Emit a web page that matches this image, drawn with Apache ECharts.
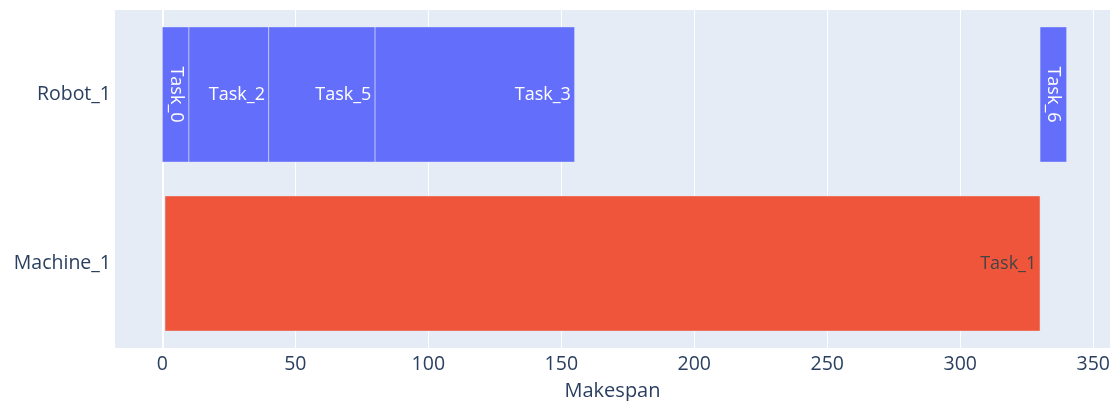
<!DOCTYPE html>
<html>
<head>
<meta charset="utf-8">
<title>Makespan</title>
<style>
  html, body { margin: 0; padding: 0; background: #fff; }
  #box { width: 1110px; height: 401px; }
</style>
</head>
<body>
<div id="box"></div>
<script src="https://cdn.jsdelivr.net/npm/echarts@6/dist/echarts.min.js"></script>
<script>
// rows of the chart, bottom to top
var resources = ['Machine_1', 'Robot_1'];
// one entry per task
var taskNames = ['Task_0', 'Task_2', 'Task_5', 'Task_3', 'Task_6', 'Task_1'];
var taskResource = ['Robot_1', 'Robot_1', 'Robot_1', 'Robot_1', 'Robot_1', 'Machine_1'];
var taskStart = [0, 10, 40, 80, 330, 1];
var taskEnd = [10, 40, 80, 155, 340, 330];

var colors = { 'Robot_1': '#636EFA', 'Machine_1': '#EF553B' };
var textColors = { 'Robot_1': '#ffffff', 'Machine_1': '#444444' };
var font = '"Open Sans", verdana, arial, sans-serif';

var data = taskNames.map(function (name, i) {
  return {
    name: name,
    value: [resources.indexOf(taskResource[i]), taskStart[i], taskEnd[i]],
    res: taskResource[i]
  };
});

function renderItem(params, api) {
  var cat = api.value(0);
  var p0 = api.coord([api.value(1), cat]);
  var p1 = api.coord([api.value(2), cat]);
  var h = api.size([0, 1])[1] * 0.8;
  var w = p1[0] - p0[0];
  var item = data[params.dataIndex];
  var narrow = w < 45;  // like plotly: turn the text when it does not fit
  return {
    type: 'rect',
    shape: { x: p0[0], y: p0[1] - h / 2, width: w, height: h },
    style: { fill: colors[item.res], stroke: '#E5ECF6', lineWidth: 0.5 },
    textContent: {
      style: {
        text: item.name,
        fill: textColors[item.res],
        fontFamily: font,
        fontSize: 18
      }
    },
    textConfig: narrow
      ? { position: 'inside', rotation: -Math.PI / 2 }
      : { position: 'insideRight', distance: 4 }
  };
}

var myChart = echarts.init(document.getElementById('box'));
myChart.setOption({
  backgroundColor: '#ffffff',
  textStyle: { fontFamily: font },
  grid: { left: 115, right: 0, top: 10, bottom: 53, outerBoundsMode: 'none', containLabel: false },
  xAxis: {
    type: 'value',
    min: -17.8,
    max: 356.3,
    splitNumber: 7,
    name: 'Makespan',
    nameLocation: 'middle',
    nameGap: 33,
    nameTextStyle: { color: '#2a3f5f', fontSize: 20, fontFamily: font },
    axisLine: { show: false },
    axisTick: { show: false },
    axisLabel: {
      color: '#2a3f5f', fontSize: 19.5, fontFamily: font, margin: 6,
      showMinLabel: false, showMaxLabel: false
    },
    splitLine: {
      show: true, showMinLine: false, showMaxLine: false,
      lineStyle: { color: '#ffffff', width: 1 }
    }
  },
  yAxis: {
    type: 'category',
    data: resources,
    axisLine: { show: true, onZero: true, lineStyle: { color: '#ffffff', width: 2 } },
    axisTick: { show: false },
    axisLabel: { color: '#2a3f5f', fontSize: 19.5, fontFamily: font, margin: 4 },
    splitLine: { show: false },
    splitArea: { show: true, areaStyle: { color: ['#E5ECF6', '#E5ECF6'] } }
  },
  series: [{
    type: 'custom',
    renderItem: renderItem,
    encode: { x: [1, 2], y: 0 },
    data: data
  }]
});
</script>
</body>
</html>
